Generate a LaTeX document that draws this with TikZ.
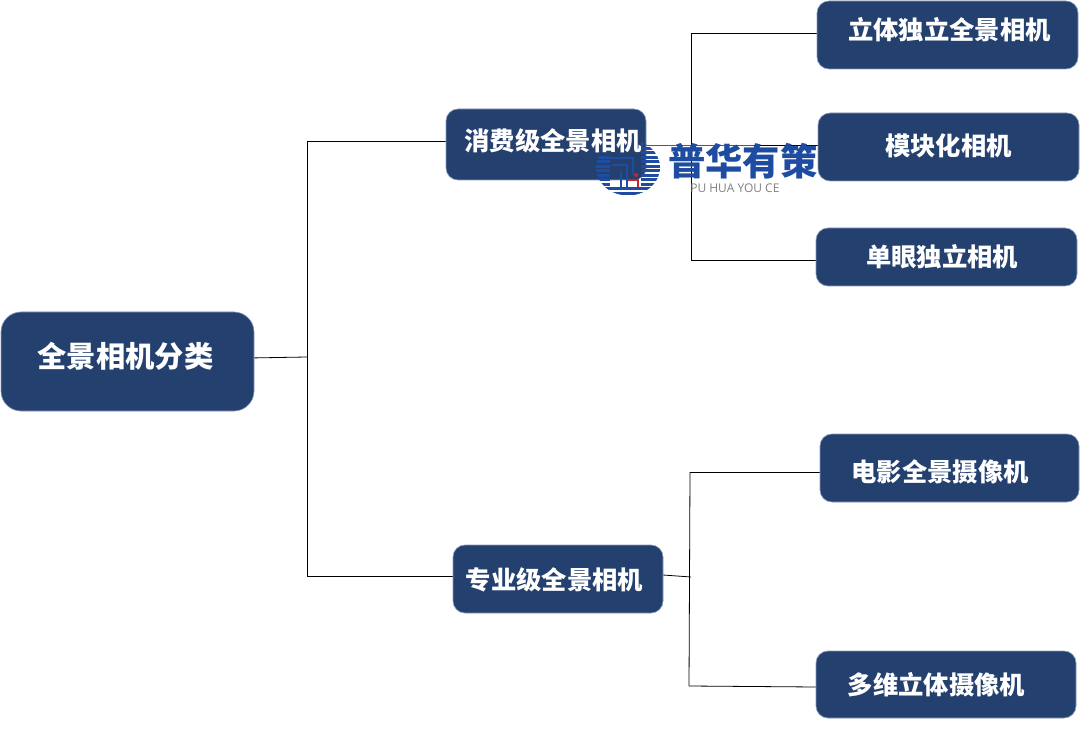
\documentclass[tikz,border=0pt]{standalone}
\usepackage{fontspec}
\newfontfamily\cjk{Noto Sans CJK SC}
\newfontfamily\latinwm{Open Sans}
\definecolor{boxblue}{HTML}{24406F}
\definecolor{boxedge}{HTML}{8A9ABA}
\definecolor{wmblue}{HTML}{1D4CA0}
\definecolor{wmred}{HTML}{C8242C}
\def\px{0.75pt}
\newcommand{\offtext}[3]{\raisebox{#2\dimexpr\px\relax}{\hspace*{#1\dimexpr\px\relax}#3}}
\tikzset{
	catbox/.style={draw=boxedge, fill=boxblue, text=white, rounded corners=12*\px, line width=0.5pt, inner sep=0pt, font=\cjk\bfseries\fontsize{19pt}{21pt}\selectfont},
	rootbox/.style={catbox, rounded corners=20*\px, font=\cjk\bfseries\fontsize{22pt}{24pt}\selectfont},
	link/.style={black, line width=0.6pt},
	wmstripe/.style={wmblue},
}
\begin{document}
\begin{tikzpicture}[x=0.75pt, y=-0.75pt]
	\useasboundingbox (0,0) rectangle (1080,737);
	% coordinates of the branch points
	\coordinate (rootout) at (249,358);
	\coordinate (spinejoin) at (307,357);
	\coordinate (spinetop) at (307,141);
	\coordinate (spinelow) at (307,576);
	\coordinate (topjoin) at (691,145);
	\coordinate (toptop) at (691,33);
	\coordinate (toplow) at (691,260);
	\coordinate (lowjoin) at (691,577);
	\coordinate (lowtop) at (690,472);
	\coordinate (lowlow) at (689,686);
	% connectors
	\draw[link] (rootout) -- (spinejoin);
	\draw[link] (spinetop) -- (spinelow);
	\draw[link] (spinetop) -- (446,141) coordinate (consin);
	\draw[link] (spinelow) -- (453,576) coordinate (proin);
	\draw[link] (toptop) -- (toplow);
	\draw[link] (646,145) coordinate (consout) -- (topjoin) -- (818,145) coordinate (modin);
	\draw[link] (toptop) -- (817,33) coordinate (stereoin);
	\draw[link] (toplow) -- (816,260) coordinate (monoin);
	\draw[link] (663,575) coordinate (proout) -- (lowjoin);
	\draw[link] (lowtop) -- (lowlow);
	\draw[link] (lowtop) -- (820,472) coordinate (moviein);
	\draw[link] (lowlow) -- (816,687) coordinate (multiin);
	% root and first level
	\node[rootbox, minimum width=253*\px, minimum height=99*\px] (root) at (127.5,361.5) {\offtext{-4}{14}{全景相机分类}};
	\node[catbox, minimum width=200*\px, minimum height=71*\px] (cons) at (546,144.5) {\offtext{14}{9}{消费级全景相机}};
	\node[catbox, minimum width=210*\px, minimum height=68*\px, text height=18pt] (pro) at (558,579) {\offtext{-7}{0}{专业级全景相机}};
	% watermark
	\begin{scope}
		\clip (628,167.5) ellipse (32 and 28);
		\foreach \ypos in {138,142.5,...,199} {
			\fill[wmstripe] (641,\ypos) rectangle (670,\ypos+2.8);
		}
		\foreach \ypos in {156,160.5,...,199} {
			\fill[wmstripe] (590,\ypos) rectangle (610,\ypos+2.8);
		}
		\foreach \ypos in {187.5,192} {
			\fill[wmstripe] (610,\ypos) rectangle (641,\ypos+2.8);
		}
	\end{scope}
	\draw[wmblue, line width=1.2pt] (607,158) -- (633,158) -- (633,175);
	\draw[wmblue, line width=1.2pt] (612,165) -- (627,165) -- (627,187);
	\draw[wmblue, line width=1.2pt] (621,171) -- (621,187);
	\fill[wmred] (636,175) circle (2);
	\draw[wmred, line width=2pt] (628,180) -- (638,180) -- (638,187);
	\node[inner sep=0pt, text=wmblue, font=\cjk\bfseries\fontsize{28pt}{30pt}\selectfont, anchor=west] (wmname) at (668,161) {普华有策};
	\node[inner sep=0pt, text=black!50, font=\latinwm\fontsize{9pt}{11pt}\selectfont, anchor=west] (wmlatin) at (690,188) {PU HUA YOU CE};
	% second level
	\node[catbox, minimum width=261*\px, minimum height=68*\px] (stereo) at (947.5,35) {\offtext{4}{14}{立体独立全景相机}};
	\node[catbox, minimum width=261*\px, minimum height=68*\px] (module) at (948.5,147) {\offtext{0}{5}{模块化相机}};
	\node[catbox, minimum width=261*\px, minimum height=58*\px] (mono) at (946.5,257) {\offtext{-9}{0}{单眼独立相机}};
	\node[catbox, minimum width=259*\px, minimum height=68*\px, text height=22pt] (movie) at (949.5,468) {\offtext{-19}{0}{电影全景摄像机}};
	\node[catbox, minimum width=260*\px, minimum height=67*\px] (multi) at (946,684.5) {\offtext{-19}{1}{多维立体摄像机}};
\end{tikzpicture}
\end{document}
